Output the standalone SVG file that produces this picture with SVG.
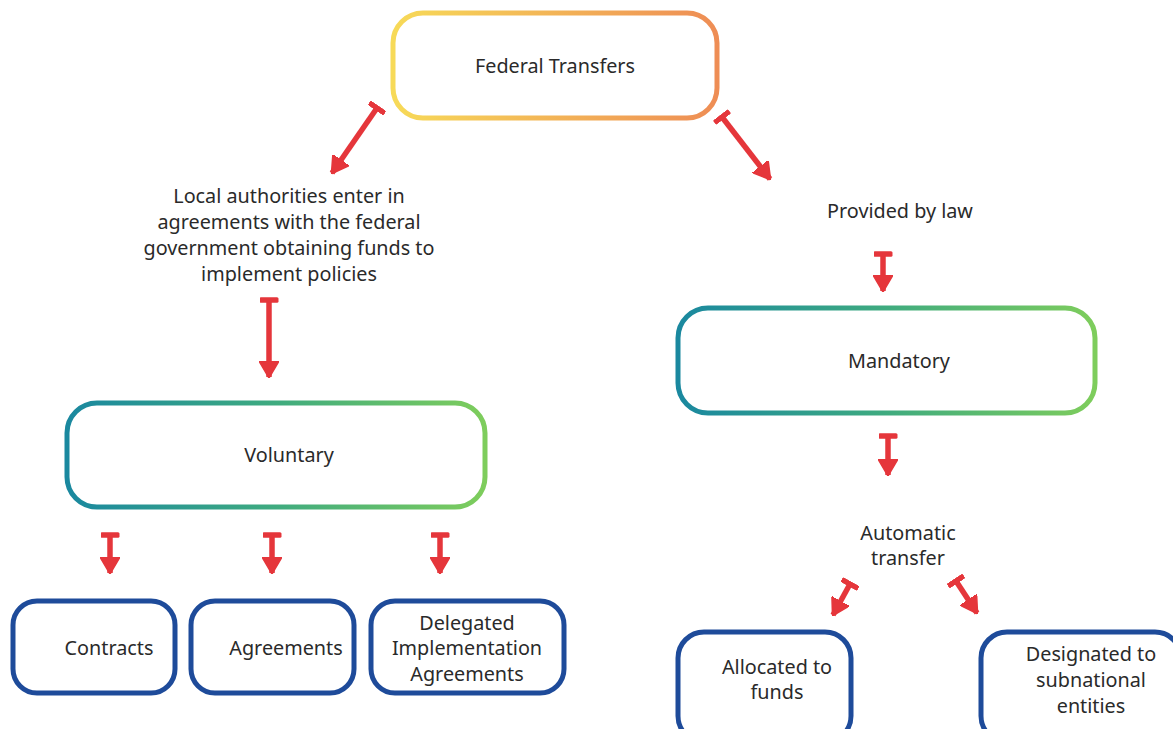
<svg xmlns="http://www.w3.org/2000/svg" width="1173" height="729" viewBox="0 0 1173 729">
<style>
text{font-family:"Noto Sans","Open Sans","DejaVu Sans",sans-serif;font-size:19.8px;fill:#2a2a2a;text-anchor:middle}
.blue{fill:#fff;stroke:#1e4b9a;stroke-width:5}
.arrow{stroke:#e5363b;stroke-width:5.5;fill:none;marker-start:url(#tbar);marker-end:url(#head)}
</style>
<defs>
<linearGradient id="gOrange" x1="0" y1="0" x2="1" y2="0">
<stop offset="0" stop-color="#f7da58"/><stop offset="1" stop-color="#ee8d55"/>
</linearGradient>
<linearGradient id="gTeal" x1="0" y1="0" x2="1" y2="0">
<stop offset="0" stop-color="#1a889f"/><stop offset="0.5" stop-color="#3fab7f"/><stop offset="1" stop-color="#7ecd5c"/>
</linearGradient>
<marker id="head" viewBox="0 0 17 20" markerWidth="17" markerHeight="20" refX="16" refY="10" orient="auto" markerUnits="userSpaceOnUse">
<path d="M0,0 L17,10 L0,20 z" fill="#e5363b" stroke="#e5363b" stroke-width="1.5" stroke-linejoin="round"/>
</marker>
<marker id="tbar" viewBox="0 0 5.5 19" markerWidth="5.5" markerHeight="19" refX="2.75" refY="9.5" orient="auto" markerUnits="userSpaceOnUse">
<rect x="0" y="0" width="5.5" height="19" rx="1.5" fill="#e5363b"/>
</marker>
</defs>

<g id="federal">
<rect x="393" y="13" width="324" height="105" rx="30" fill="#fff" stroke="url(#gOrange)" stroke-width="5"/>
<text x="555" y="73">Federal Transfers</text>
</g>

<g id="local-text">
<text x="289" y="203">Local authorities enter in</text>
<text x="289" y="229">agreements with the federal</text>
<text x="289" y="255">government obtaining funds to</text>
<text x="289" y="281">implement policies</text>
</g>

<g id="law-text">
<text x="900" y="218">Provided by law</text>
</g>

<g id="voluntary">
<rect x="67" y="403" width="418" height="104" rx="30" fill="#fff" stroke="url(#gTeal)" stroke-width="5"/>
<text x="289" y="462">Voluntary</text>
</g>

<g id="mandatory">
<rect x="678" y="308" width="417" height="105" rx="30" fill="#fff" stroke="url(#gTeal)" stroke-width="5"/>
<text x="899" y="368">Mandatory</text>
</g>

<g id="auto-text">
<text x="908" y="540">Automatic</text>
<text x="908" y="565">transfer</text>
</g>

<g id="contracts">
<rect class="blue" x="13" y="601" width="162" height="92" rx="24"/>
<text x="109" y="655">Contracts</text>
</g>
<g id="agreements">
<rect class="blue" x="191" y="601" width="163" height="92" rx="24"/>
<text x="286" y="655">Agreements</text>
</g>
<g id="delegated">
<rect class="blue" x="371" y="601" width="193" height="92" rx="24"/>
<text x="467" y="630">Delegated</text>
<text x="467" y="655">Implementation</text>
<text x="467" y="681">Agreements</text>
</g>
<g id="allocated">
<rect class="blue" x="678" y="632" width="173" height="110" rx="26"/>
<text x="777" y="674">Allocated to</text>
<text x="777" y="699">funds</text>
</g>
<g id="designated">
<rect class="blue" x="981" y="632" width="200" height="110" rx="26"/>
<text x="1091" y="661">Designated to</text>
<text x="1091" y="687">subnational</text>
<text x="1091" y="713">entities</text>
</g>

<g id="connectors">
<line class="arrow" x1="377" y1="108" x2="332" y2="173"/>
<line class="arrow" x1="722" y1="117" x2="770" y2="179"/>
<line class="arrow" x1="269" y1="300" x2="269" y2="377"/>
<line class="arrow" x1="883" y1="254" x2="883" y2="291"/>
<line class="arrow" x1="888" y1="436" x2="888" y2="475"/>
<line class="arrow" x1="110" y1="535" x2="110" y2="573"/>
<line class="arrow" x1="272" y1="535" x2="272" y2="573"/>
<line class="arrow" x1="440" y1="535" x2="440" y2="573"/>
<line class="arrow" x1="850" y1="584" x2="833" y2="615"/>
<line class="arrow" x1="956" y1="581" x2="977" y2="613"/>
</g>
</svg>
